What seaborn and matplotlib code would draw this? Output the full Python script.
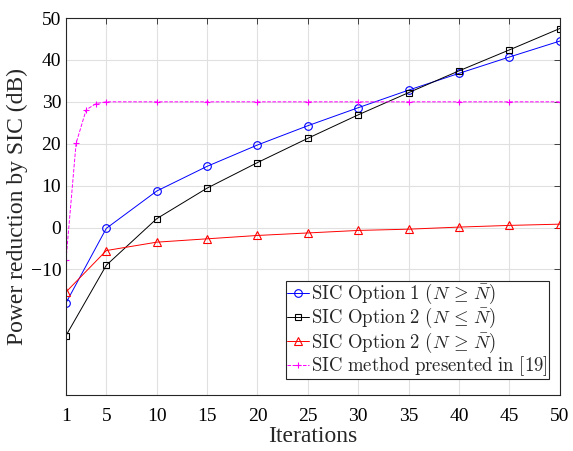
import pandas as pd
import matplotlib.pyplot as plt
import seaborn as sns

sns.set_style("whitegrid")
plt.rcParams["font.family"] = ["Liberation Serif", "DejaVu Serif"]
plt.rcParams["mathtext.fontset"] = "cm"

# Values
iters = [1, 5, 10, 15, 20, 25, 30, 35, 40, 45, 50]
opt1_ge = [-18.0, -0.2, 8.7, 14.6, 19.7, 24.3, 28.6, 32.8, 36.8, 40.7, 44.5]
opt2_le = [-25.8, -9.0, 2.1, 9.4, 15.5, 21.3, 26.9, 32.2, 37.4, 42.4, 47.5]
opt2_ge = [-15.4, -5.5, -3.5, -2.7, -1.9, -1.3, -0.7, -0.4, 0.1, 0.5, 0.8]

ref_iters = [1, 2, 3, 4, 5, 10, 15, 20, 25, 30, 35, 40, 45, 50]
ref_vals = [-7.7, 20.1, 28.1, 29.6, 30.0, 30.0, 30.0, 30.0, 30.0, 30.0, 30.0, 30.0, 30.0, 30.0]

labels = [
    r"$\mathrm{SIC\ Option\ 1}\ (N\,\geq\,\bar{N})$",
    r"$\mathrm{SIC\ Option\ 2}\ (N\,\leq\,\bar{N})$",
    r"$\mathrm{SIC\ Option\ 2}\ (N\,\geq\,\bar{N})$",
    r"$\mathrm{SIC\ method\ presented\ in\ [19]}$",
]

fig = plt.figure(figsize=(5.73, 4.51), dpi=100)
ax = fig.add_axes([0.1152, 0.124, 0.8618, 0.836])

sns.lineplot(x=iters, y=opt1_ge, ax=ax, color="blue", marker="o", markersize=5.5,
             markerfacecolor="none", markeredgecolor="blue", markeredgewidth=0.8,
             linewidth=0.7, label=labels[0])
sns.lineplot(x=iters, y=opt2_le, ax=ax, color="black", marker="s", markersize=4.5,
             markerfacecolor="none", markeredgecolor="black", markeredgewidth=0.8,
             linewidth=0.7, label=labels[1])
sns.lineplot(x=iters, y=opt2_ge, ax=ax, color="red", marker="^", markersize=6,
             markerfacecolor="none", markeredgecolor="red", markeredgewidth=0.8,
             linewidth=0.7, label=labels[2])
sns.lineplot(x=ref_iters, y=ref_vals, ax=ax, color="magenta", marker="+", markersize=5,
             markeredgecolor="magenta", markeredgewidth=0.8, linewidth=0.7,
             linestyle="--", label=labels[3])

ax.set_xlim(1, 50)
ax.set_ylim(-40, 50)
ax.set_xticks([1, 5, 10, 15, 20, 25, 30, 35, 40, 45, 50])
ax.set_yticks([-10, 0, 10, 20, 30, 40, 50])
ax.set_xlabel("Iterations", fontsize=17, labelpad=1)
ax.set_ylabel("Power reduction by SIC (dB)", fontsize=17, labelpad=2)
ax.tick_params(axis="both", which="both", direction="in", labelsize=14,
               top=True, right=True, length=4, width=0.6, colors="0.15")
ax.tick_params(axis="x", pad=9)
ax.tick_params(axis="y", pad=3.5)
ax.tick_params(labelcolor="black")
ax.grid(True, color="0.88", linewidth=0.8)
for sp in ax.spines.values():
    sp.set_visible(True)
    sp.set_color("0.15")
    sp.set_linewidth(0.8)

leg = ax.legend(loc="lower right", bbox_to_anchor=(0.978, 0.042), fontsize=13.5,
                frameon=True, fancybox=False, edgecolor="0.15", framealpha=1,
                handlelength=1.2, handletextpad=0.1, borderpad=0.05,
                labelspacing=0.0, borderaxespad=0)
leg.get_frame().set_linewidth(0.8)

fig.savefig("out.png", dpi=100)
